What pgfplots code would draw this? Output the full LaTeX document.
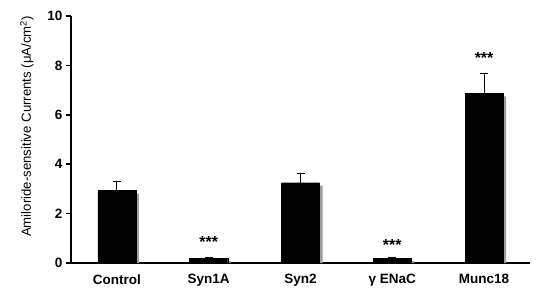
\documentclass[border=0pt]{standalone}
\usepackage{pgfplots}
\usepackage{pgfplotstable}
\pgfplotsset{compat=1.18}
\usepackage{fontspec}
\setmainfont{Liberation Sans}
\pgfplotstableread{
x y err
0 2.93 0.36
1 0.20 0.02
2 3.25 0.38
3 0.20 0.02
4 6.87 0.81
}\datatable
\begin{document}
\begin{tikzpicture}
\useasboundingbox (-71pt,-35pt) rectangle (465pt,263pt);
\begin{axis}[
  scale only axis, width=459pt, height=247pt,
  xmin=-0.5, xmax=4.5, ymin=0, ymax=10,
  axis lines=left,
  axis line style={line width=1.6pt,-},
  ytick={0,2,...,10},
  xtick={0,1,2,3,4},
  xticklabels={Control,Syn1A,Syn2,{γ ENaC},Munc18},
  minor xtick={-0.5,0.5,1.5,2.5,3.5,4.5},
  tick align=outside,
  major tick length=5pt,
  minor tick length=6pt,
  xtick style={draw=none},
  ytick style={line width=1.6pt,black},
  minor x tick style={line width=1.6pt,black},
  /pgf/number format/assume math mode=true,
  ticklabel style={font=\bfseries\fontsize{13.5}{15}\selectfont},
  xticklabel style={yshift=-3pt},
  ylabel={Amiloride-sensitive Currents (μA/cm\textsuperscript{2})},
  ylabel style={at={(axis description cs:-0.096,0.553)}, anchor=center, font=\fontsize{13.2}{15}\selectfont},
  clip=false,
]
\addplot[ybar, bar width=38pt, bar shift=3pt, fill=black!38, draw=none] table[x=x,y expr=\thisrow{y}-0.12] {\datatable};
\addplot[ybar, bar width=38pt, bar shift=0pt, fill=black, draw=black,
  error bars/.cd, y dir=plus, y explicit,
  error bar style={line width=0.8pt,black}, error mark options={line width=0.8pt,black,mark size=4pt,rotate=90}]
  table[x=x,y=y,y error=err] {\datatable};
\node[font=\bfseries\fontsize{16}{18}\selectfont] at (axis cs:1,0.86) {***};
\node[font=\bfseries\fontsize{16}{18}\selectfont] at (axis cs:3,0.73) {***};
\node[font=\bfseries\fontsize{16}{18}\selectfont] at (axis cs:4,8.29) {***};
\end{axis}
\end{tikzpicture}
\end{document}
